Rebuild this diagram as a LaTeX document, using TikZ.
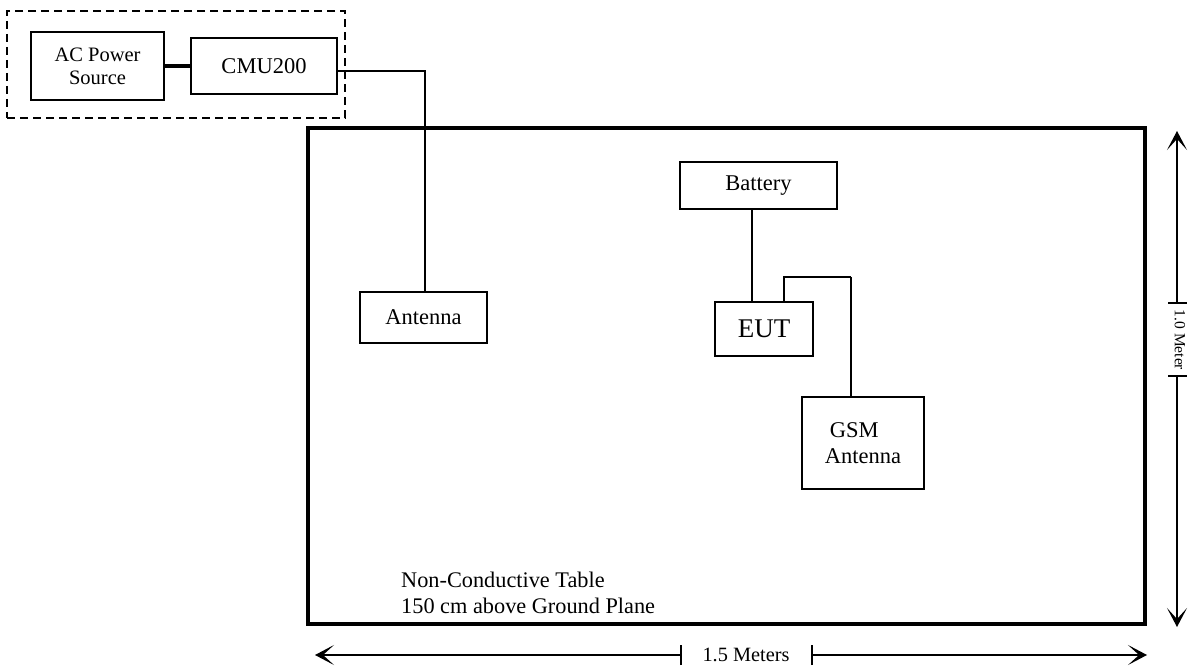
\documentclass[tikz,border=0pt]{standalone}
\usepackage{fontspec}
\setmainfont{Liberation Serif}
\usetikzlibrary{arrows.meta}
\begin{document}
\begin{tikzpicture}[x=1pt,y=-1pt,
  box/.style={draw, line width=2pt, inner sep=0pt, align=center, font=\fontsize{22.5}{26}\selectfont},
  grpbox/.style={draw, line width=1.7pt, dash pattern=on 8pt off 5pt, inner sep=0pt},
  tablebox/.style={draw, line width=3.4pt, inner sep=0pt},
  thinwire/.style={line width=1.2pt},
  thickwire/.style={line width=2.8pt},
  dimline/.style={line width=1.6pt},
  dimtip/.style={-{Stealth[length=19pt,width=20pt,inset=11pt]}}
]
\useasboundingbox (0,0) rectangle (1189,668);

% equipment group
\node[grpbox, minimum width=338, minimum height=107] (grp) at (176,64.5) {};
\node[box, minimum width=133, minimum height=68, font=\fontsize{20.5}{23}\selectfont] (ac) at (97.5,66) {AC Power\\Source};
\node[box, minimum width=146, minimum height=56] (cmu) at (264,66) {CMU200};
\draw[line width=3.2pt] (ac) -- (cmu);

% table
\node[tablebox, minimum width=837, minimum height=496] (table) at (726.5,376) {};

% devices
\node[box, minimum width=127, minimum height=51] (ant) at (423.5,317.5) {Antenna};
\node[box, minimum width=157, minimum height=47] (bat) at (758.5,185.5) {Battery};
\node[box, minimum width=98, minimum height=54, font=\fontsize{27}{30}\selectfont] (eut) at (764,329) {EUT};
\node[box, minimum width=122, minimum height=92, align=left] (gsm) at (863,443) {\hspace{5pt}GSM\\Antenna};

% wiring
\draw[line width=2.5pt] ([yshift=-5pt]cmu.east) -| ([xshift=1.5pt]ant.north);
\draw[thinwire] ([xshift=-6.5pt]bat.south) -- ([xshift=-6.5pt]bat.south |- eut.north);
\coordinate (bend) at (851,277);
\draw[thickwire] ([xshift=20pt]eut.north) |- (bend);
\draw[thinwire] (bend) -- (bend |- gsm.north);

% table label
\node[anchor=west, align=left, inner sep=0pt, font=\fontsize{22.3}{26}\selectfont] (lbl) at (401,593) {Non-Conductive Table\\150 cm above Ground Plane};

% vertical dimension
\node[rotate=-90, inner sep=0pt, font=\fontsize{15.5}{18}\selectfont] (vlab) at (1180,340) {1.0 Meter};
\coordinate (vt1) at (1177,303);
\coordinate (vt2) at (1177,376);
\coordinate (vtop) at (1177,131);
\coordinate (vbot) at (1177,627);
\draw[dimline, dimtip] (vt1) -- (vtop);
\draw[dimline, dimtip] (vt2) -- (vbot);
\draw[dimline] ([xshift=-9pt]vt1) -- ([xshift=10pt]vt1);
\draw[dimline] ([xshift=-9pt]vt2) -- ([xshift=10pt]vt2);

% horizontal dimension
\node[inner sep=0pt, font=\fontsize{20.3}{23}\selectfont] (hlab) at (746,655) {1.5 Meters};
\coordinate (ht1) at (681,655);
\coordinate (ht2) at (812,655);
\coordinate (hl) at (315,655);
\coordinate (hr) at (1147,655);
\draw[dimline, dimtip] (ht1) -- (hl);
\draw[dimline, dimtip] (ht2) -- (hr);
\draw[dimline] ([yshift=-10pt]ht1) -- ([yshift=10pt]ht1);
\draw[dimline] ([yshift=-10pt]ht2) -- ([yshift=10pt]ht2);
\end{tikzpicture}
\end{document}
